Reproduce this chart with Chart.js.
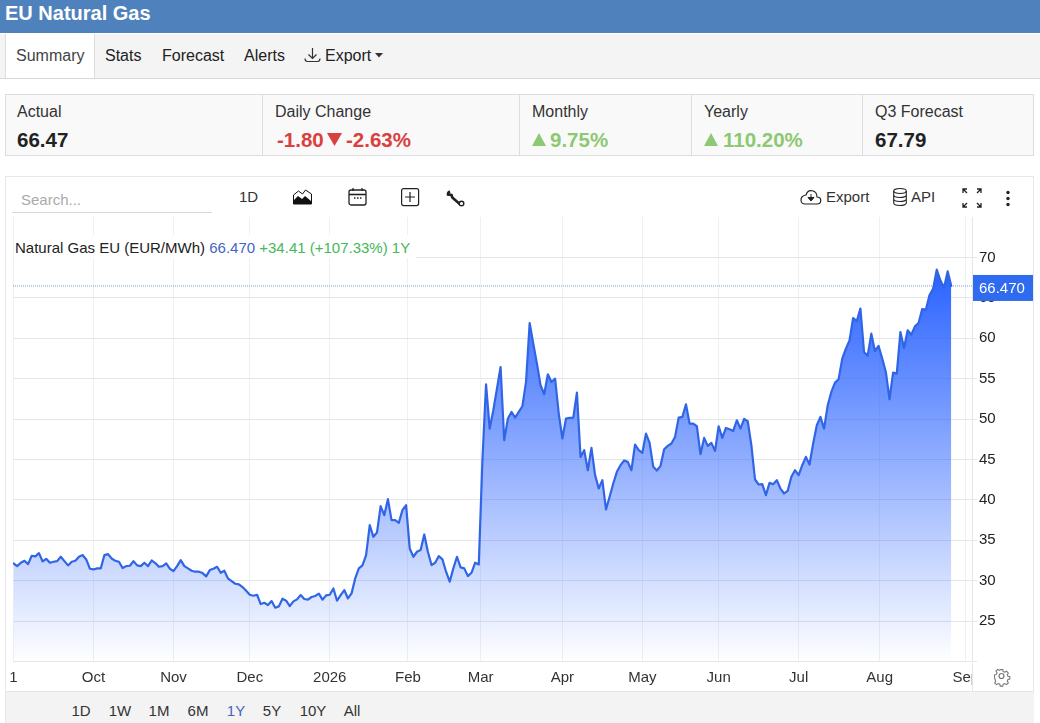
<!DOCTYPE html>
<html>
<head>
<meta charset="utf-8">
<title>EU Natural Gas</title>
<script src="https://cdn.jsdelivr.net/npm/chart.js@4"></script>
<style>
  html, body { margin: 0; padding: 0; background: #fff; overflow: hidden; }
  body { width: 1040px; height: 723px; position: relative; font-family: "Liberation Sans", Arial, sans-serif; color: #222; }
  .abs { position: absolute; white-space: nowrap; }
  #header { left: 0; top: 0; width: 1040px; height: 33px; background: #4f81bd; color: #fff; font-weight: bold; font-size: 20px; line-height: 27px; text-indent: 5px; }
  #nav { left: 0; top: 34px; width: 1040px; height: 44px; background: #f4f4f4; border-bottom: 1px solid #d8d8d8; }
  #tab { left: 5px; top: 0; width: 90px; height: 44px; background: #fff; border-left: 1px solid #ddd; border-right: 1px solid #ddd; box-sizing: border-box; }
  .nav { top: 47px; font-size: 16px; line-height: 18px; }
  .stat { top: 94px; height: 62px; box-sizing: border-box; background: #f9f9f9; border: 1px solid #ddd; }
  .stat-label { top: 103px; font-size: 16px; line-height: 18px; color: #333; }
  .stat-val { top: 128px; font-size: 20.5px; line-height: 24px; font-weight: bold; }
  .red { color: #d9403f; }
  .green { color: #8cc972; }
  #box { left: 5px; top: 176px; width: 1029px; height: 547px; box-sizing: border-box; border: 1px solid #e8e8e8; }
  #search { left: 12px; top: 186px; width: 200px; height: 26px; border-bottom: 1px solid #d8d8d8; color: #aaa; font-size: 15px; line-height: 27px; text-indent: 9px; }
  .tool { top: 188px; font-size: 15px; line-height: 18px; color: #333; }
  #chartWrap { left: 0; top: 217px; width: 1040px; height: 478px; }
  #legend { left: 14px; top: 235px; width: 402px; height: 23px; background: #fff; font-size: 15px; line-height: 26px; text-indent: 1px; }
  #legend .b { color: #3f66c4; }
  #legend .g { color: #45b859; }
  #cover { left: 972px; top: 663px; width: 61px; height: 28px; background: #fff; border-left: 1px solid #e6e6e6; }
  #rightEdge { left: 1033px; top: 177px; width: 1px; height: 514px; background: #e8e8e8; }
  #bottom { left: 6px; top: 691px; width: 1028px; height: 32px; background: #f3f3f3; border-top: 1px solid #e6e6e6; box-sizing: border-box; }
  .range { top: 702px; font-size: 15px; line-height: 18px; color: #333; transform: translateX(-50%); }
  svg { position: absolute; overflow: visible; }
</style>
</head>
<body>
<div class="abs" id="header">EU Natural Gas</div>
<div class="abs" id="nav"><div class="abs" id="tab"></div></div>
<div class="abs nav" style="left:16px;color:#444">Summary</div>
<div class="abs nav" style="left:105px">Stats</div>
<div class="abs nav" style="left:162px">Forecast</div>
<div class="abs nav" style="left:244px">Alerts</div>
<svg style="left:304px;top:47px" width="17" height="16" fill="none" stroke="#333" stroke-width="1.2"><path d="M8.5 1v10M4.5 7.5l4 4 4-4M1 11.5c0 2 1 3 2.5 3h10c1.500 0 2.500-1 2.500-3"/></svg>
<div class="abs nav" style="left:325px">Export</div>
<svg style="left:375px;top:53px" width="8" height="5"><path d="M0 0h8L4 4.500z" fill="#333"/></svg>

<div class="abs stat" style="left:5px;width:258px"></div>
<div class="abs stat" style="left:262px;width:258px"></div>
<div class="abs stat" style="left:519px;width:173px"></div>
<div class="abs stat" style="left:691px;width:172px"></div>
<div class="abs stat" style="left:862px;width:172px"></div>
<div class="abs stat-label" style="left:17px">Actual</div>
<div class="abs stat-label" style="left:275px">Daily Change</div>
<div class="abs stat-label" style="left:532px">Monthly</div>
<div class="abs stat-label" style="left:704px">Yearly</div>
<div class="abs stat-label" style="left:875px">Q3 Forecast</div>
<div class="abs stat-val" style="left:17px">66.47</div>
<div class="abs stat-val red" style="left:277px">-1.80</div>
<svg style="left:327px;top:133px" width="15" height="13"><path d="M0 0h15L7.500 13z" fill="#d9403f"/></svg>
<div class="abs stat-val red" style="left:346px">-2.63%</div>
<svg style="left:532px;top:133px" width="14" height="13"><path d="M0 13h14L7 0z" fill="#8cc972"/></svg>
<div class="abs stat-val green" style="left:550px">9.75%</div>
<svg style="left:704px;top:133px" width="14" height="13"><path d="M0 13h14L7 0z" fill="#8cc972"/></svg>
<div class="abs stat-val green" style="left:723px">110.20%</div>
<div class="abs stat-val" style="left:875px">67.79</div>

<div class="abs" id="box"></div>
<div class="abs" id="search">Search...</div>
<div class="abs tool" style="left:239px">1D</div>
<svg style="left:293px;top:189px" width="19" height="16"><path d="M0.500 15V6l5-4 4 3 3-4 6 4v10z" fill="none" stroke="#111" stroke-width="1"/><path d="M1 15V11l4-4 4 3 3-3 6 5v3z" fill="#111"/></svg>
<svg style="left:348px;top:187px" width="19" height="19" fill="none" stroke="#222" stroke-width="1.300"><rect x="1" y="3" width="17" height="15" rx="2"/><path d="M1 7.500h17" stroke-width="1.600"/><path d="M5 1v3M14 1v3M6 11h1.500M9 11h1.500M12 11h1.500"/></svg>
<svg style="left:401px;top:188px" width="18" height="18" fill="none" stroke="#222" stroke-width="1.200"><rect x="0.600" y="0.600" width="17" height="17" rx="2"/><path d="M9 4v10M4 9h10"/></svg>
<svg style="left:447px;top:190px" width="18" height="17" fill="none" stroke="#222"><path d="M3 1.500a3 3 0 0 0 -2 3l3.500 0.500 0.800 2.500 8 7" stroke-width="2.600"/><circle cx="14.500" cy="13.500" r="2.300" stroke-width="1.400" fill="#fff"/></svg>
<svg style="left:800px;top:189px" width="22" height="16"><path d="M5 15h12c5 0 5-7 0-7 0-7-9-9-11-2-7 1-6 9-1 9z" fill="none" stroke="#222" stroke-width="1.200"/><path d="M11 5v5M8 8.500l3 3.500 3-3.500z" fill="#222" stroke="#222"/></svg>
<div class="abs tool" style="left:826px">Export</div>
<svg style="left:893px;top:188px" width="14" height="18" fill="none" stroke="#222" stroke-width="1.100"><ellipse cx="7" cy="3" rx="6.300" ry="2.500"/><path d="M0.700 3v12c0 3.300 12.600 3.300 12.600 0V3M0.700 7c0 3.300 12.600 3.300 12.600 0M0.700 11c0 3.300 12.600 3.300 12.600 0"/></svg>
<div class="abs tool" style="left:911px">API</div>
<svg style="left:962px;top:188px" width="20" height="20" fill="none" stroke="#222" stroke-width="1.300"><path d="M1 5V1h4M1 1l4 4M19 5V1h-4M19 1l-4 4M1 15v4h4M1 19l4-4M19 15v4h-4M19 19l-4-4"/></svg>
<svg style="left:1005px;top:190px" width="6" height="17" fill="#222"><circle cx="3" cy="2.500" r="1.700"/><circle cx="3" cy="8.500" r="1.700"/><circle cx="3" cy="14.500" r="1.700"/></svg>

<div class="abs" id="chartWrap"><canvas id="gasChart"></canvas></div>
<div class="abs" id="legend">Natural Gas EU (EUR/MWh) <span class="b">66.470</span> <span class="g">+34.41 (+107.33%) 1Y</span></div>
<div class="abs" id="cover"></div>
<svg style="left:993px;top:667px" width="17" height="18" viewBox="0 0 24 24" fill="none" stroke="#777" stroke-width="1.700"><circle cx="12" cy="12" r="3.500"/><path d="M10 2h4l.7 3 2.500 1.100 2.700-1.600 2.800 2.800-1.600 2.700 1 2.500 2.900.7v3.600l-2.900.7-1 2.500 1.600 2.700-2.800 2.800-2.700-1.600-2.500 1-.7 3h-4l-.7-3-2.500-1-2.700 1.600-2.800-2.800 1.600-2.700-1-2.500L1 13.800v-3.600l2.900-.7 1-2.500-1.600-2.700 2.800-2.800 2.700 1.600 2.500-1.100z" transform="translate(1.200 1.200) scale(.9)"/></svg>
<div class="abs" id="rightEdge"></div>
<div class="abs" id="bottom"></div>
<div class="abs range" style="left:81px">1D</div>
<div class="abs range" style="left:120px">1W</div>
<div class="abs range" style="left:159px">1M</div>
<div class="abs range" style="left:198px">6M</div>
<div class="abs range" style="left:236px;color:#3f66c4">1Y</div>
<div class="abs range" style="left:272px">5Y</div>
<div class="abs range" style="left:313px">10Y</div>
<div class="abs range" style="left:352px">All</div>

<script>
// Daily close, EUR/MWh
const prices = [
  32.13, 31.80, 32.22, 32.46, 32.05, 33.08, 33.00, 33.41, 32.38, 32.71,
  32.22, 32.34, 32.42, 32.96, 32.42, 31.89, 32.34, 32.46, 32.96, 33.17,
  32.63, 31.48, 31.39, 31.52, 31.52, 33.17, 33.29, 32.75, 32.46, 32.34,
  31.56, 31.80, 31.85, 32.42, 31.89, 31.80, 32.22, 31.80, 32.50, 32.18,
  31.72, 31.80, 32.13, 31.48, 31.19, 31.80, 32.55, 31.80, 31.52, 31.23,
  31.11, 31.11, 30.94, 30.53, 31.31, 31.48, 31.72, 30.98, 31.23, 30.28,
  29.95, 29.62, 29.54, 29.21, 28.76, 28.26, 28.14, 28.26, 27.11, 27.27,
  26.98, 27.48, 26.66, 26.82, 27.77, 27.52, 26.86, 27.44, 27.69, 28.22,
  27.73, 27.65, 27.98, 28.10, 28.39, 27.65, 28.18, 28.26, 29.04, 27.52,
  28.22, 28.84, 27.80,
  28.43, 30.28, 31.52, 31.89, 33.17, 36.87, 35.43, 35.97, 39.22, 38.11,
  40.09, 37.49, 37.49, 37.16, 38.73, 39.35, 33.99, 32.96, 33.58, 33.79,
  35.72, 33.58, 31.93, 32.22, 33.04, 32.63, 31.11, 29.87, 31.52, 32.96,
  31.64, 31.52, 30.57, 30.98, 32.22, 32.01, 44.91, 54.30, 48.82, 51.09,
  53.77, 56.44, 47.38, 50.06, 50.88, 50.18, 50.88, 51.58, 54.59, 61.88,
  59.33, 56.86, 54.18, 53.07, 55.54, 54.59, 55.00, 50.68, 47.59, 50.06,
  50.14, 50.18, 53.27, 45.32, 46.15, 43.67, 46.44, 43.06, 41.41, 42.44,
  38.81, 40.38, 42.03, 43.47, 44.29, 44.87, 44.70, 43.67, 46.85, 46.15,
  45.82, 48.20, 47.05, 44.09, 43.63, 44.21, 46.27, 46.68, 46.97, 47.79,
  50.18, 50.26, 51.83, 49.44,
  49.44, 49.11, 45.65, 47.67, 46.68, 47.05, 46.06, 49.11, 47.67, 48.90,
  48.74, 48.53, 49.85, 48.82, 50.02, 49.73, 46.76, 42.52, 41.90, 41.94,
  40.58, 42.10, 41.94, 42.44, 41.40, 40.79, 41.12, 42.85, 43.67, 43.05,
  44.29, 45.32, 44.37, 46.97, 49.23, 50.27, 48.82, 51.70, 53.35, 54.51,
  54.92, 57.47, 58.71, 59.74, 62.50, 62.13, 63.66, 58.30, 57.84, 60.57,
  58.42, 59.04, 57.47, 55.83, 52.45, 55.74, 55.62, 60.77, 58.79, 60.98,
  60.44, 61.47, 61.88, 63.60, 63.53, 65.30, 66.13, 68.48, 67.16, 66.25,
  68.27, 66.47
];
const monthLabels = ['1', 'Oct', 'Nov', 'Dec', '2026', 'Feb', 'Mar', 'Apr', 'May', 'Jun', 'Jul', 'Aug', 'Sep'];
const monthDays = [0, 22, 44, 65, 87, 108.5, 128.5, 151, 173, 194, 216, 238.3, 262];
const yTicks = [20, 25, 30, 35, 40, 45, 50, 55, 60, 65, 70];
const lastPrice = 66.47;

const dayMin = -0.15;
const dayMax = 263.7;

// blue area, fades out towards the axis
function areaGradient(ctx) {
  const { chart } = ctx;
  if (!chart.chartArea) return 'rgba(41,98,255,0.5)';
  const y = chart.scales.y;
  const g = chart.ctx.createLinearGradient(0, y.getPixelForValue(68.5), 0, y.getPixelForValue(20));
  g.addColorStop(0, 'rgba(41,98,255,1)');
  g.addColorStop(1, 'rgba(41,98,255,0)');
  return g;
}

// blue box with the last value on the price axis
const priceTag = {
  id: 'priceTag',
  afterDraw(chart) {
    const c = chart.ctx;
    const y = chart.scales.y.getPixelForValue(lastPrice);
    c.save();
    c.fillStyle = '#2f6bef';
    c.fillRect(973, y - 11, 60, 26);
    c.fillStyle = '#fff';
    c.font = '15px "Liberation Sans"';
    c.textAlign = 'left';
    c.textBaseline = 'middle';
    c.fillText(lastPrice.toFixed(3), 979, y + 3);
    c.restore();
  }
};

new Chart(document.getElementById('gasChart').getContext('2d'), {
  type: 'line',
  data: {
    datasets: [
      {
        data: prices.map((p, i) => ({ x: i, y: p })),
        borderColor: '#3065e6',
        borderWidth: 2.2,
        borderJoinStyle: 'round',
        borderCapStyle: 'round',
        pointRadius: 0,
        tension: 0,
        fill: 'start',
        backgroundColor: areaGradient
      },
      {
        data: [{ x: dayMin, y: lastPrice }, { x: dayMax, y: lastPrice }],
        borderColor: '#7e9cc4',
        borderWidth: 1,
        borderDash: [1, 1],
        pointRadius: 0,
        fill: false
      }
    ]
  },
  options: {
    responsive: true,
    maintainAspectRatio: false,
    animation: false,
    layout: { padding: { left: 13, right: 0, top: 0, bottom: 0 } },
    plugins: { legend: { display: false }, tooltip: { enabled: false } },
    scales: {
      x: {
        type: 'linear',
        min: dayMin,
        max: dayMax,
        afterBuildTicks: s => { s.ticks = monthDays.map(v => ({ value: v })); },
        afterFit: s => { s.height = 33.5; },
        grid: { color: '#edf0f4', drawTicks: false },
        border: { display: false },
        ticks: {
          autoSkip: false,
          maxRotation: 0,
          padding: 7,
          color: '#333',
          font: { family: '"Liberation Sans"', size: 15 },
          callback: v => monthLabels[monthDays.indexOf(v)]
        }
      },
      y: {
        position: 'right',
        min: 20,
        max: 75,
        afterBuildTicks: s => { s.ticks = yTicks.map(v => ({ value: v })); },
        afterFit: s => { s.width = 68; s.paddingTop = 0; s.paddingBottom = 0; },
        grid: { color: '#e6e6e6', tickLength: 5 },
        border: { color: '#e6e6e6' },
        ticks: {
          padding: 2,
          color: '#222',
          font: { family: '"Liberation Sans"', size: 15 },
          callback: v => (v === 20 ? '' : v)
        }
      }
    }
  },
  plugins: [priceTag]
});
</script>
</body>
</html>
